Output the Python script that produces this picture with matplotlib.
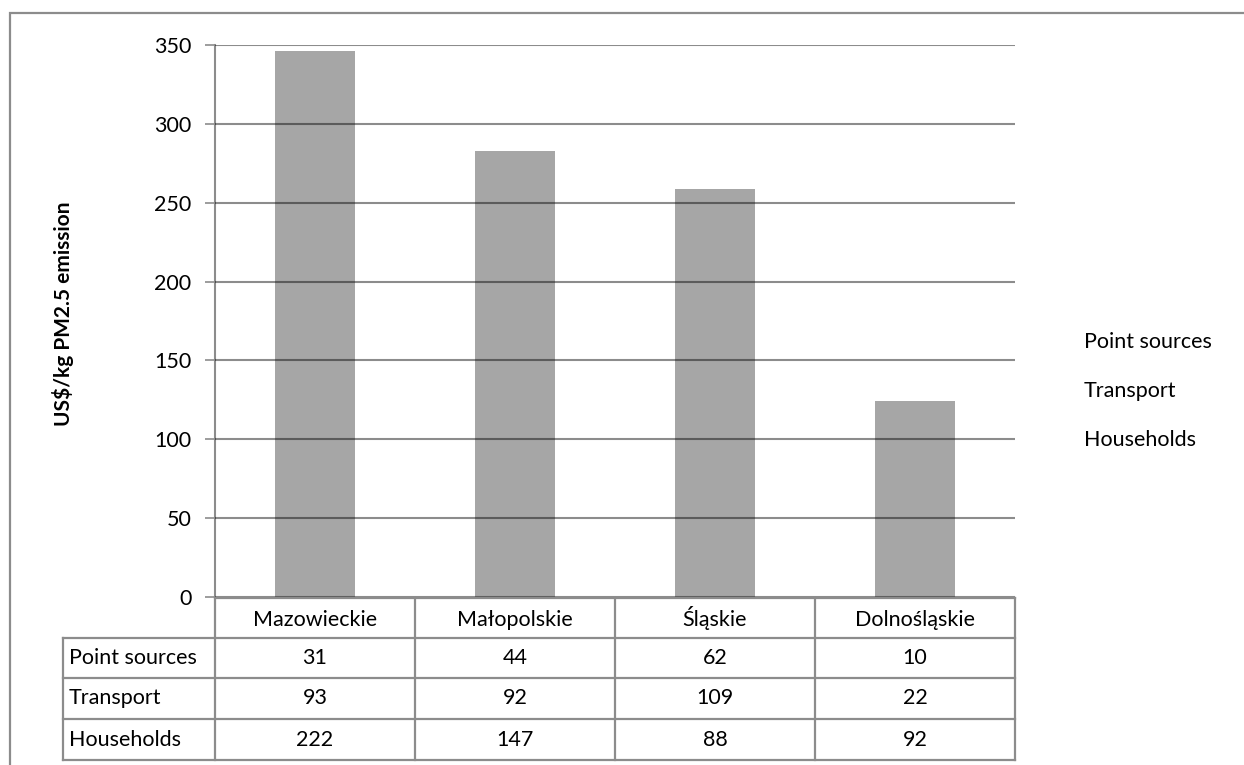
import matplotlib
matplotlib.use('Agg')
import matplotlib.pyplot as plt
import matplotlib.patches as mpatches
import numpy as np

# ---------------------------------------------------------------
# DATA
# ---------------------------------------------------------------
regions = ['Mazowieckie', 'Małopolskie', 'Śląskie', 'Dolnośląskie']
series_names = ['Point sources', 'Transport', 'Households']
point_sources = [31, 44, 62, 10]
transport = [93, 92, 109, 22]
households = [222, 147, 88, 92]
y_ticks = [0, 50, 100, 150, 200, 250, 300, 350]
y_label = 'US$/kg PM2.5 emission'

# ---------------------------------------------------------------
# STYLE
# ---------------------------------------------------------------
plt.rcParams['font.family'] = ['Lato', 'DejaVu Sans']
FONT = 15.5
BAR_COLOR = '#a6a6a6'
LINE_COLOR = '#8c8c8c'
W, H = 1244, 765

fig = plt.figure(figsize=(W / 100, H / 100), dpi=100)

# Plotbereich in Pixeln: x 215..1015, y 45..597
ax_l, ax_r, ax_t, ax_b = 215, 1015, 45, 597
ax = fig.add_axes([ax_l / W, 1 - ax_b / H, (ax_r - ax_l) / W, (ax_b - ax_t) / H])

x = np.arange(len(regions))
# Households unten, dann Transport, dann Point sources
bottom = np.zeros(len(regions))
for vals in [households, transport, point_sources]:
    ax.bar(x, vals, bottom=bottom, width=0.4, color=BAR_COLOR, edgecolor='none', zorder=1)
    bottom += np.array(vals)

ax.set_xlim(-0.5, len(regions) - 0.5)
ax.set_ylim(0, 350)
ax.set_yticks(y_ticks)
ax.set_yticklabels([str(t) for t in y_ticks], fontsize=FONT)
ax.set_xticks([])
ax.yaxis.grid(True, color='black', alpha=0.45, linewidth=1.5, zorder=3)
ax.set_axisbelow(False)
ax.tick_params(axis='y', length=7, width=1.2, color=LINE_COLOR, pad=10)
for side in ['top', 'right', 'bottom']:
    ax.spines[side].set_visible(False)
ax.spines['left'].set_color(LINE_COLOR)
ax.spines['left'].set_linewidth(1.5)

fig.text(63 / W, 1 - 314 / H, y_label, rotation=90, ha='center', va='center',
         fontsize=15, fontweight='bold')

# ---------------------------------------------------------------
# DATENTABELLE unter der Achse
# ---------------------------------------------------------------
px = lambda v: 1 - v / H          # Pixel-y -> Figurenanteil
fx = lambda v: v / W              # Pixel-x -> Figurenanteil
tr = fig.transFigure

row_edges = [597.5, 637.5, 678, 719, 760]
col_edges = [ax_l + i * (ax_r - ax_l) / len(regions) for i in range(len(regions) + 1)]
label_left = 63

def hline(x0, x1, y):
    fig.add_artist(plt.Line2D([fx(x0), fx(x1)], [px(y), px(y)], transform=tr,
                              color=LINE_COLOR, linewidth=1.6))

def vline(xv, y0, y1):
    fig.add_artist(plt.Line2D([fx(xv), fx(xv)], [px(y0), px(y1)], transform=tr,
                              color=LINE_COLOR, linewidth=1.6))

hline(ax_l, ax_r, row_edges[0])
for y in row_edges[1:]:
    hline(label_left, ax_r, y)
for xv in col_edges:
    vline(xv, row_edges[0], row_edges[-1])
vline(label_left, row_edges[1], row_edges[-1])

# Kopfzeile (gemeinsame Grundlinie, damit Akzente nicht verschieben)
for i, name in enumerate(regions):
    cx = (col_edges[i] + col_edges[i + 1]) / 2
    fig.text(fx(cx), px(row_edges[1] - 12), name,
             ha='center', va='baseline', fontsize=FONT)

table_rows = [point_sources, transport, households]
for r, (name, vals) in enumerate(zip(series_names, table_rows)):
    cy = (row_edges[r + 1] + row_edges[r + 2]) / 2
    fig.text(fx(label_left + 6), px(cy), name, ha='left', va='center', fontsize=FONT)
    for i, v in enumerate(vals):
        cx = (col_edges[i] + col_edges[i + 1]) / 2
        fig.text(fx(cx), px(cy), str(v), ha='center', va='center', fontsize=FONT)

# Legende (nur Text)
for name, ly in zip(series_names, [342, 391, 440]):
    fig.text(fx(1084), px(ly), name, ha='left', va='center', fontsize=FONT)

# Außenrahmen
fig.add_artist(mpatches.Rectangle((fx(10), px(790)), fx(1234 - 10 + 20), px(13) - px(790),
                                  transform=tr, fill=False, edgecolor=LINE_COLOR,
                                  linewidth=1.6))

fig.savefig('out.png', dpi=100)
